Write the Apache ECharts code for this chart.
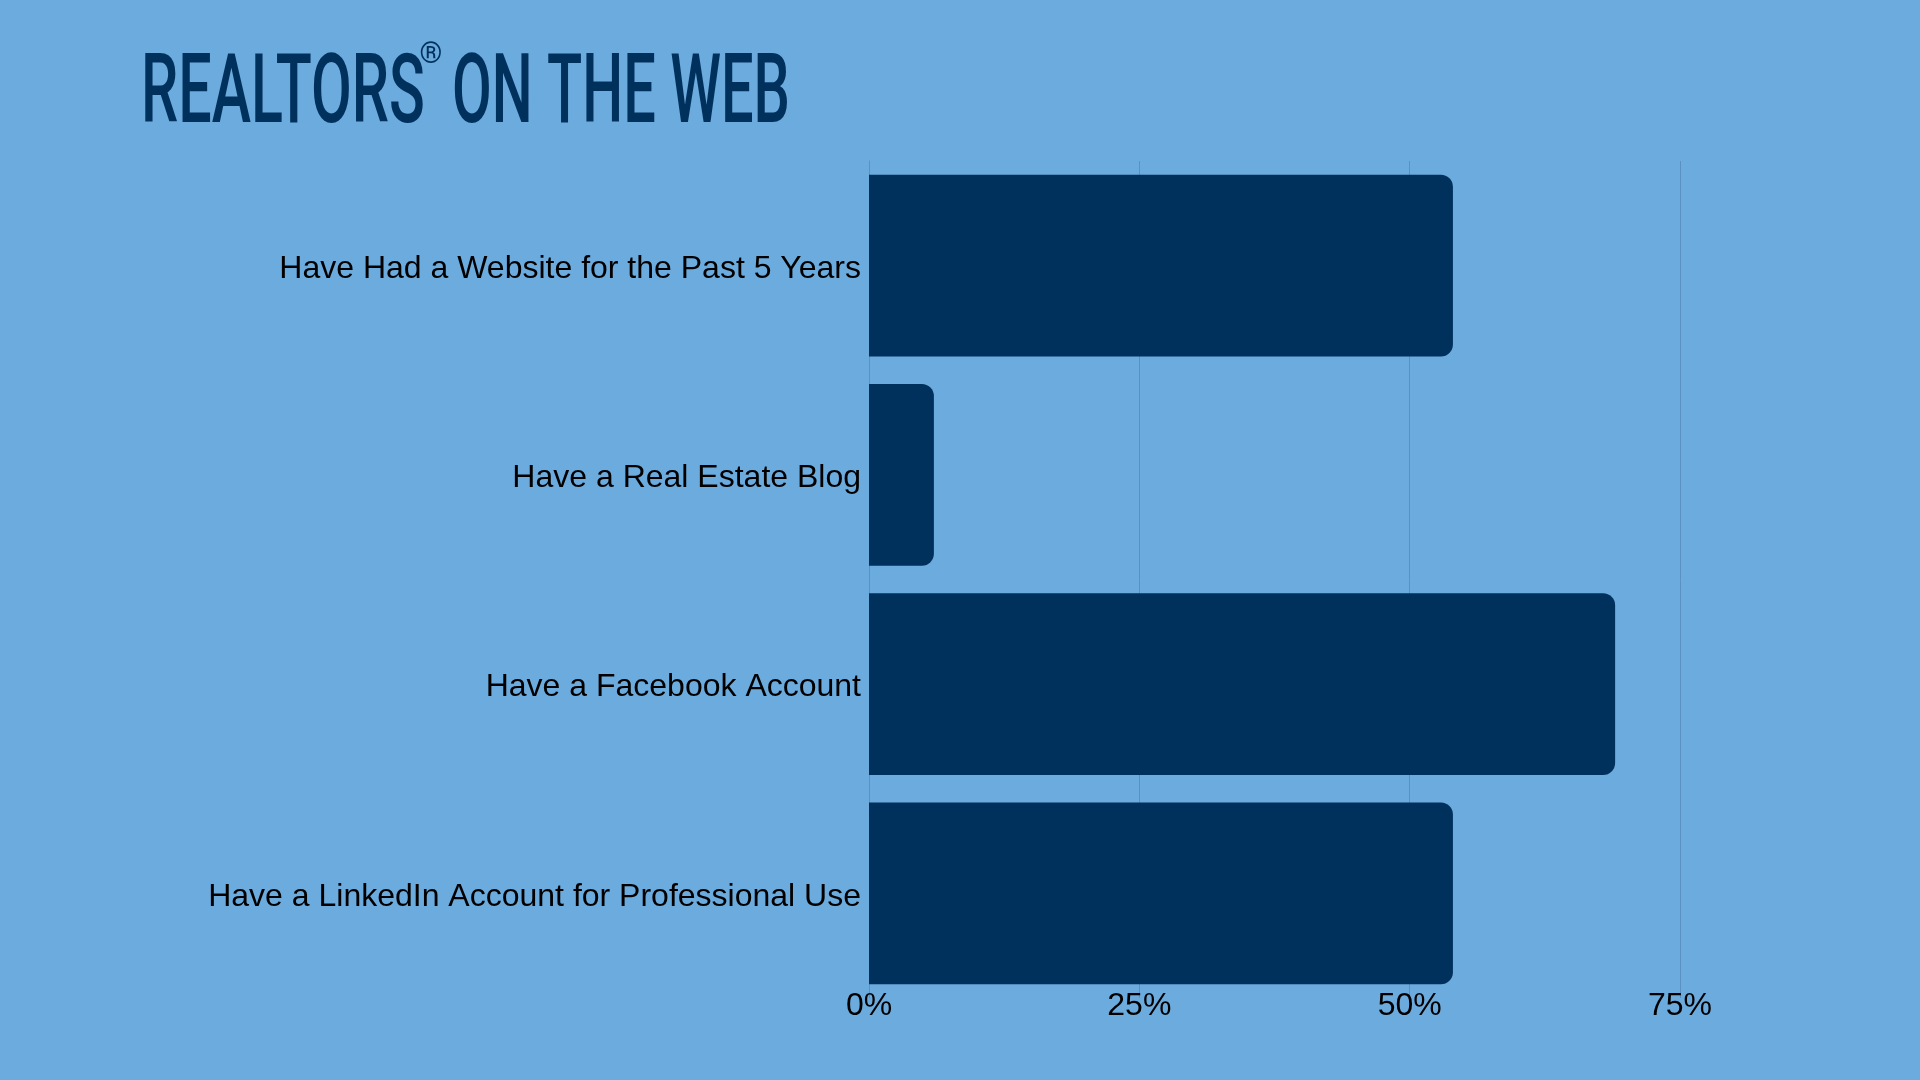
<!DOCTYPE html>
<html lang="en">
<head>
    <meta charset="UTF-8">
    <title>Realtors on the web</title>
    <style>
        html, body { margin: 0; padding: 0; background: #6cabde; }
        #main { width: 1920px; height: 1080px; }
    </style>
</head>
<body>
    <div id="main"></div>
    <script src="https://cdn.jsdelivr.net/npm/echarts@6/dist/echarts.min.js"></script>
    <script>
        // data
        const categories = [
            'Have Had a Website for the Past 5 Years',
            'Have a Real Estate Blog',
            'Have a Facebook Account',
            'Have a LinkedIn Account for Professional Use'
        ];
        const shares = [54, 6, 69, 54];
        const tickValues = [0, 25, 50, 75];

        const navy = '#00305c';
        const gridBlue = '#5a90c2';

        const chart = echarts.init(document.getElementById('main'));

        // title pieces (narrow headline font faked with scaleX)
        const headFont = { fontFamily: 'Roboto', fontSize: 97, fontWeight: 500, color: navy, lineHeight: 100 };

        const option = {
            backgroundColor: '#6cabde',
            animation: false,
            graphic: [
                {
                    type: 'text',
                    x: 141,
                    y: 48,
                    scaleX: 0.61,
                    style: {
                        text: '{a|REALTORS}',
                        fill: navy,
                        rich: { a: headFont }
                    }
                },
                {
                    type: 'text',
                    x: 431,
                    y: 41,
                    style: {
                        text: '®',
                        fill: navy,
                        fontFamily: 'Roboto',
                        fontSize: 29,
                        align: 'center',
                        verticalAlign: 'top'
                    }
                },
                {
                    type: 'text',
                    x: 790,
                    y: 48,
                    scaleX: 0.595,
                    style: {
                        text: '{a|ON THE WEB}',
                        fill: navy,
                        align: 'right',
                        rich: { a: headFont }
                    }
                }
            ],
            grid: {
                left: 869,
                right: 240,
                top: 161,
                bottom: 82
            },
            xAxis: {
                type: 'value',
                min: 0,
                max: 75,
                interval: 25,
                axisLine: { show: false },
                axisTick: { show: false },
                splitLine: { show: true, lineStyle: { color: gridBlue, width: 1 } },
                axisLabel: {
                    color: '#000',
                    fontFamily: 'Liberation Sans',
                    fontSize: 32,
                    margin: -8,
                    formatter: v => tickValues.indexOf(v) >= 0 ? v + '%' : ''
                }
            },
            yAxis: {
                type: 'category',
                inverse: true,
                data: categories,
                axisLine: { show: true, lineStyle: { color: gridBlue, width: 1 } },
                axisTick: { show: false },
                axisLabel: {
                    margin: 8,
                    formatter: v => '{l|' + v + '}',
                    rich: {
                        l: {
                            color: '#000',
                            fontFamily: 'Liberation Sans',
                            fontSize: 32,
                            padding: [7, 0, 0, 0]
                        }
                    }
                }
            },
            series: [
                {
                    type: 'bar',
                    data: shares,
                    barCategoryGap: '13.2%',
                    itemStyle: {
                        color: navy,
                        borderRadius: [0, 12, 12, 0]
                    }
                }
            ]
        };

        chart.setOption(option);
    </script>
</body>
</html>
